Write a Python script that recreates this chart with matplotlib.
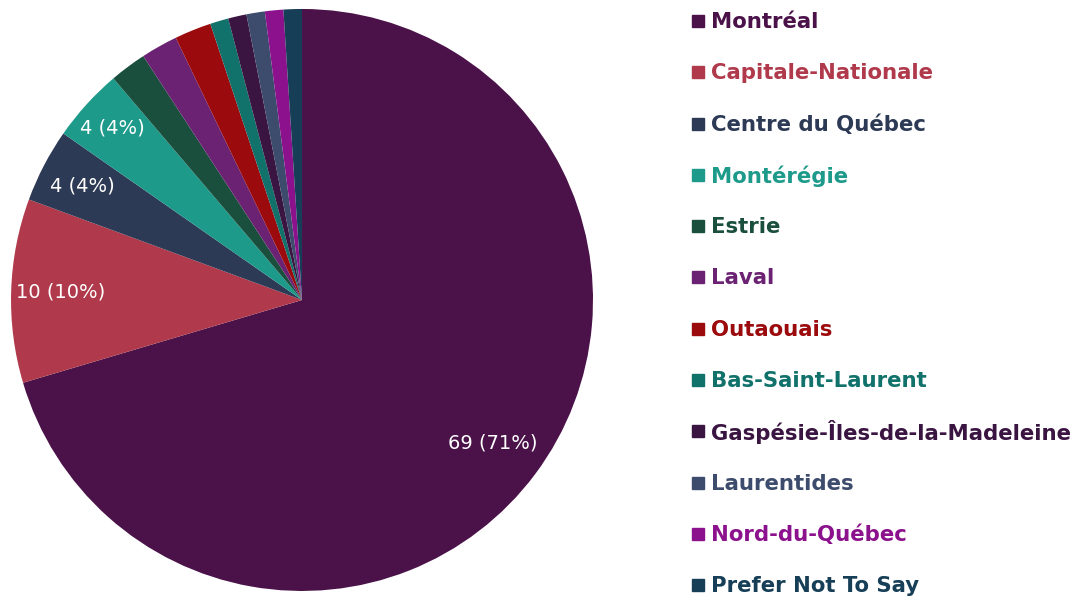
import matplotlib.pyplot as plt
from matplotlib.lines import Line2D
import numpy as np

regions = ["Montréal", "Capitale-Nationale", "Centre du Québec", "Montérégie",
           "Estrie", "Laval", "Outaouais", "Bas-Saint-Laurent",
           "Gaspésie-Îles-de-la-Madeleine", "Laurentides", "Nord-du-Québec",
           "Prefer Not To Say"]
counts = [69, 10, 4, 4, 2, 2, 2, 1, 1, 1, 1, 1]
pct_labels = ["69 (71%)", "10 (10%)", "4 (4%)", "4 (4%)", "", "", "", "", "", "", "", ""]
colors = ["#4a1249", "#b03a4b", "#2d3a55", "#1e9a8b", "#1a4f3d", "#6b2272",
          "#9b0b0e", "#11716b", "#3b1541", "#3d4b6c", "#8c128d", "#163f57"]

plt.rcParams['font.family'] = ['DejaVu Sans']

fig = plt.figure(figsize=(10.86, 5.99), dpi=100)
ax = fig.add_axes([0.0101, 0.0134, 0.536, 0.9716])

# clockwise from 12 o'clock
wedges, _ = ax.pie(counts, colors=colors, startangle=90, counterclock=False,
                   wedgeprops=dict(linewidth=0))
ax.set_xlim(-1, 1)
ax.set_ylim(-1, 1)
ax.set_aspect('equal')

label_r = [0.82, 0.83, 0.85, 0.88]  # labels sit a bit further out on the thin slices
for i, (w, lab) in enumerate(zip(wedges, pct_labels)):
    if not lab:
        continue
    ang = np.deg2rad((w.theta1 + w.theta2) / 2)
    r = label_r[i]
    ax.text(r * np.cos(ang), r * np.sin(ang), lab, color="white",
            fontsize=14, ha="center", va="center")

# legend drawn row by row so the Î doesn't push its row down
top = 1 - 20 / 599
step = 51.3 / 599
for i, (name, c) in enumerate(zip(regions, colors)):
    y = top - i * step
    fig.add_artist(Line2D([698 / 1086], [y - 1 / 599], marker="s", markersize=8.5,
                          color=c, linestyle="none", transform=fig.transFigure))
    fig.text(711 / 1086, y, name, color=c, fontsize=15.3, weight="bold",
             ha="left", va="center_baseline")

fig.savefig("out.png", dpi=100)
